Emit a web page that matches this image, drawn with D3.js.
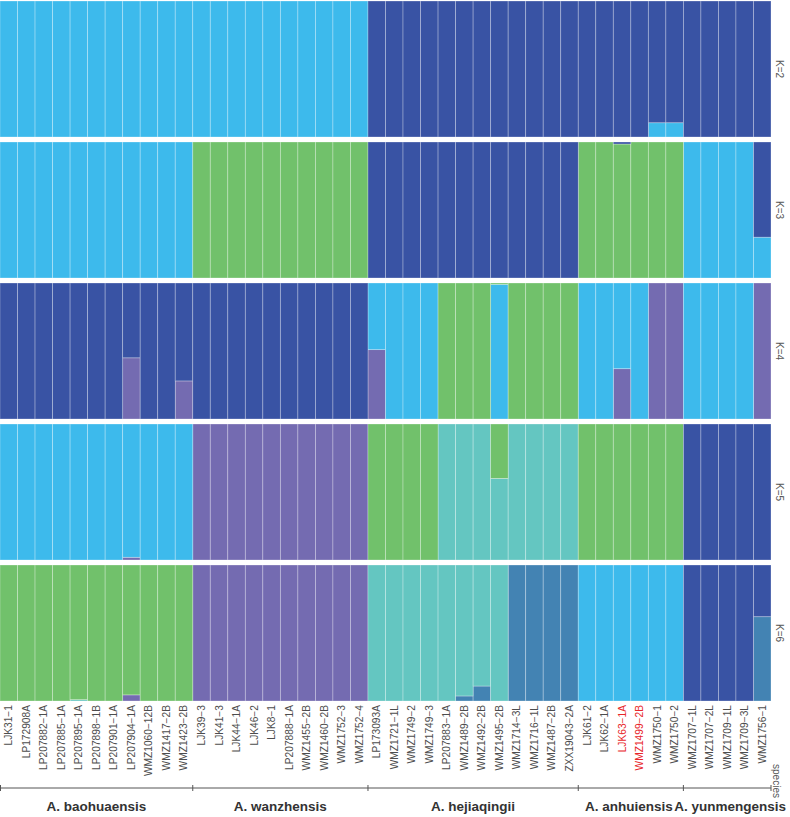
<!DOCTYPE html>
<html>
<head>
<meta charset="utf-8">
<script src="https://cdn.jsdelivr.net/npm/d3@7"></script>
<style>
	html, body { margin: 0; padding: 0; background: #fff; }
	svg { display: block; font-family: 'Liberation Sans', Arial, sans-serif; }
</style>
</head>
<body>
<div id="chart"></div>
<script>
// samples, in plot order
const samples = [
	'LJK31−1', 'LP172908A', 'LP207882−1A', 'LP207885−1A', 'LP207895−1A', 'LP207898−1B', 'LP207901−1A', 'LP207904−1A', 'WMZ1060−12B', 'WMZ1417−2B', 'WMZ1423−2B',
	'LJK39−3', 'LJK41−3', 'LJK44−1A', 'LJK46−2', 'LJK8−1', 'LP207888−1A', 'WMZ1455−2B', 'WMZ1460−2B', 'WMZ1752−3', 'WMZ1752−4',
	'LP173093A', 'WMZ1721−1L', 'WMZ1749−2', 'WMZ1749−3', 'LP207883−1A', 'WMZ1489−2B', 'WMZ1492−2B', 'WMZ1495−2B', 'WMZ1714−3L', 'WMZ1716−1L', 'WMZ1487−2B', 'ZXX19043−2A',
	'LJK61−2', 'LJK62−1A', 'LJK63−1A', 'WMZ1499−2B', 'WMZ1750−1', 'WMZ1750−2',
	'WMZ1707−1L', 'WMZ1707−2L', 'WMZ1709−1L', 'WMZ1709−3L', 'WMZ1756−1'
];
const redSamples = ['LJK63−1A', 'WMZ1499−2B'];

const species = ['A. baohuaensis', 'A. wanzhensis', 'A. hejiaqingii', 'A. anhuiensis', 'A. yunmengensis'];
const speciesCount = [11, 10, 12, 6, 5];

const kLabels = ['K=2', 'K=3', 'K=4', 'K=5', 'K=6'];

// cluster colours, bottom -> top stacking order for each K
const k2Colors = ['#3DBAEC', '#3953A4'];
const k3Colors = ['#3DBAEC', '#71C16B', '#3953A4'];
const k4Colors = ['#746BB1', '#3DBAEC', '#71C16B', '#3953A4'];
const k5Colors = ['#746BB1', '#64C6C1', '#71C16B', '#3DBAEC', '#3953A4'];
const k6Colors = ['#4383B3', '#746BB1', '#64C6C1', '#71C16B', '#3DBAEC', '#3953A4'];

// membership per sample (same order as colours)
const k2 = [
	[1, 0], [1, 0], [1, 0], [1, 0], [1, 0], [1, 0], [1, 0], [1, 0], [1, 0], [1, 0], [1, 0],
	[1, 0], [1, 0], [1, 0], [1, 0], [1, 0], [1, 0], [1, 0], [1, 0], [1, 0], [1, 0],
	[0, 1], [0, 1], [0, 1], [0, 1], [0, 1], [0, 1], [0, 1], [0, 1], [0, 1], [0, 1], [0, 1], [0, 1],
	[0, 1], [0, 1], [0, 1], [0, 1], [0.105, 0.895], [0.105, 0.895],
	[0, 1], [0, 1], [0, 1], [0, 1], [0, 1]
];
const k3 = [
	[1, 0, 0], [1, 0, 0], [1, 0, 0], [1, 0, 0], [1, 0, 0], [1, 0, 0], [1, 0, 0], [1, 0, 0], [1, 0, 0], [1, 0, 0], [1, 0, 0],
	[0, 1, 0], [0, 1, 0], [0, 1, 0], [0, 1, 0], [0, 1, 0], [0, 1, 0], [0, 1, 0], [0, 1, 0], [0, 1, 0], [0, 1, 0],
	[0, 0, 1], [0, 0, 1], [0, 0, 1], [0, 0, 1], [0, 0, 1], [0, 0, 1], [0, 0, 1], [0, 0, 1], [0, 0, 1], [0, 0, 1], [0, 0, 1], [0, 0, 1],
	[0, 1, 0], [0, 1, 0], [0, 0.985, 0.015], [0, 1, 0], [0, 1, 0], [0, 1, 0],
	[1, 0, 0], [1, 0, 0], [1, 0, 0], [1, 0, 0], [0.30, 0, 0.70]
];
const k4 = [
	[0, 0, 0, 1], [0, 0, 0, 1], [0, 0, 0, 1], [0, 0, 0, 1], [0, 0, 0, 1], [0, 0, 0, 1], [0, 0, 0, 1], [0.45, 0, 0, 0.55], [0, 0, 0, 1], [0, 0, 0, 1], [0.28, 0, 0, 0.72],
	[0, 0, 0, 1], [0, 0, 0, 1], [0, 0, 0, 1], [0, 0, 0, 1], [0, 0, 0, 1], [0, 0, 0, 1], [0, 0, 0, 1], [0, 0, 0, 1], [0, 0, 0, 1], [0, 0, 0, 1],
	[0.51, 0.49, 0, 0], [0, 1, 0, 0], [0, 1, 0, 0], [0, 1, 0, 0], [0, 0, 1, 0], [0, 0, 1, 0], [0, 0, 1, 0], [0, 0.99, 0.01, 0], [0, 0, 1, 0], [0, 0, 1, 0], [0, 0, 1, 0], [0, 0, 1, 0],
	[0, 1, 0, 0], [0, 1, 0, 0], [0.37, 0.63, 0, 0], [0, 1, 0, 0], [1, 0, 0, 0], [1, 0, 0, 0],
	[0, 1, 0, 0], [0, 1, 0, 0], [0, 1, 0, 0], [0, 1, 0, 0], [1, 0, 0, 0]
];
const k5 = [
	[0, 0, 0, 1, 0], [0, 0, 0, 1, 0], [0, 0, 0, 1, 0], [0, 0, 0, 1, 0], [0, 0, 0, 1, 0], [0, 0, 0, 1, 0], [0, 0, 0, 1, 0], [0.02, 0, 0, 0.98, 0], [0, 0, 0, 1, 0], [0, 0, 0, 1, 0], [0, 0, 0, 1, 0],
	[1, 0, 0, 0, 0], [1, 0, 0, 0, 0], [1, 0, 0, 0, 0], [1, 0, 0, 0, 0], [1, 0, 0, 0, 0], [1, 0, 0, 0, 0], [1, 0, 0, 0, 0], [1, 0, 0, 0, 0], [1, 0, 0, 0, 0], [1, 0, 0, 0, 0],
	[0, 0, 1, 0, 0], [0, 0, 1, 0, 0], [0, 0, 1, 0, 0], [0, 0, 1, 0, 0], [0, 1, 0, 0, 0], [0, 1, 0, 0, 0], [0, 1, 0, 0, 0], [0, 0.60, 0.40, 0, 0], [0, 1, 0, 0, 0], [0, 1, 0, 0, 0], [0, 1, 0, 0, 0], [0, 1, 0, 0, 0],
	[0, 0, 1, 0, 0], [0, 0, 1, 0, 0], [0, 0, 1, 0, 0], [0, 0, 1, 0, 0], [0, 0, 1, 0, 0], [0, 0, 1, 0, 0],
	[0, 0, 0, 0, 1], [0, 0, 0, 0, 1], [0, 0, 0, 0, 1], [0, 0, 0, 0, 1], [0, 0, 0, 0, 1]
];
const k6 = [
	[0, 0, 0, 1, 0, 0], [0, 0, 0, 1, 0, 0], [0, 0, 0, 1, 0, 0], [0, 0, 0, 1, 0, 0], [0, 0, 0.01, 0.99, 0, 0], [0, 0, 0, 1, 0, 0], [0, 0, 0, 1, 0, 0], [0, 0.045, 0, 0.955, 0, 0], [0, 0, 0, 1, 0, 0], [0, 0, 0, 1, 0, 0], [0, 0, 0, 1, 0, 0],
	[0, 1, 0, 0, 0, 0], [0, 1, 0, 0, 0, 0], [0, 1, 0, 0, 0, 0], [0, 1, 0, 0, 0, 0], [0, 1, 0, 0, 0, 0], [0, 1, 0, 0, 0, 0], [0, 1, 0, 0, 0, 0], [0, 1, 0, 0, 0, 0], [0, 1, 0, 0, 0, 0], [0, 1, 0, 0, 0, 0],
	[0, 0, 1, 0, 0, 0], [0, 0, 1, 0, 0, 0], [0, 0, 1, 0, 0, 0], [0, 0, 1, 0, 0, 0], [0, 0, 1, 0, 0, 0], [0.037, 0, 0.963, 0, 0, 0], [0.11, 0, 0.89, 0, 0, 0], [0, 0, 1, 0, 0, 0], [1, 0, 0, 0, 0, 0], [1, 0, 0, 0, 0, 0], [1, 0, 0, 0, 0, 0], [1, 0, 0, 0, 0, 0],
	[0, 0, 0, 0, 1, 0], [0, 0, 0, 0, 1, 0], [0, 0, 0, 0, 1, 0], [0, 0, 0, 0, 1, 0], [0, 0, 0, 0, 1, 0], [0, 0, 0, 0, 1, 0],
	[0, 0, 0, 0, 0, 1], [0, 0, 0, 0, 0, 1], [0, 0, 0, 0, 0, 1], [0, 0, 0, 0, 0, 1], [0.62, 0, 0, 0, 0, 0.38]
];

const panels = [
	{ label: kLabels[0], colors: k2Colors, rows: k2 },
	{ label: kLabels[1], colors: k3Colors, rows: k3 },
	{ label: kLabels[2], colors: k4Colors, rows: k4 },
	{ label: kLabels[3], colors: k5Colors, rows: k5 },
	{ label: kLabels[4], colors: k6Colors, rows: k6 }
];

const W = 790, H = 817;
const plotW = 771,
	panelTop = 1,
	panelH = 136,
	panelGap = 5;

const svg = d3.select('#chart').append('svg')
	.attr('width', W)
	.attr('height', H)
	.attr('viewBox', `0 0 ${W} ${H}`);

const x = d3.scaleBand().domain(samples).range([0, plotW]).padding(0);

// one panel per K
panels.forEach((p, pi) => {
	const top = panelTop + pi * (panelH + panelGap);
	const y = d3.scaleLinear().domain([0, 1]).range([top + panelH, top]);
	const keys = p.colors.map((c, i) => i);
	const table = p.rows.map((r, i) => {
		const o = { sample: samples[i] };
		r.forEach((v, j) => o[j] = v);
		return o;
	});
	const series = d3.stack().keys(keys)(table);

	const g = svg.append('g').attr('class', 'panel');

	g.selectAll('g.layer')
		.data(series)
		.enter()
		.append('g')
		.attr('class', 'layer')
		.attr('fill', d => p.colors[d.key])
		.selectAll('rect')
		.data(d => d.filter(s => s[1] - s[0] > 0))
		.enter()
		.append('rect')
		.attr('x', d => x(d.data.sample))
		.attr('width', x.bandwidth())
		.attr('y', d => y(d[1]))
		.attr('height', d => y(d[0]) - y(d[1]))
		.attr('stroke', '#fff')
		.attr('stroke-opacity', 0.35)
		.attr('stroke-width', 0.8);

	// K label on the right
	g.append('text')
		.attr('transform', `translate(${plotW + 8},${top + panelH / 2}) rotate(90)`)
		.attr('text-anchor', 'middle')
		.attr('dominant-baseline', 'central')
		.attr('font-size', 10)
		.attr('fill', '#555')
		.text(p.label);
});

// sample labels
const labelTop = panelTop + 5 * panelH + 4 * panelGap + 4;
svg.append('g')
	.selectAll('text')
	.data(samples)
	.enter()
	.append('text')
	.attr('transform', d => `translate(${x(d) + x.bandwidth() / 2},${labelTop}) rotate(-90)`)
	.attr('text-anchor', 'end')
	.attr('dominant-baseline', 'central')
	.attr('font-size', 10.2)
	.attr('fill', d => redSamples.includes(d) ? '#E8262A' : '#4D4D4D')
	.text(d => d);

// species axis
const axisY = 788;
const bounds = [0];
speciesCount.forEach(n => bounds.push(bounds[bounds.length - 1] + n));
const edgeX = i => i === samples.length ? plotW : x(samples[i]);

const axisG = svg.append('g').attr('stroke', '#555').attr('stroke-width', 1);
axisG.append('line')
	.attr('x1', 0).attr('x2', plotW)
	.attr('y1', axisY).attr('y2', axisY);
axisG.selectAll('line.tick')
	.data(bounds)
	.enter()
	.append('line')
	.attr('class', 'tick')
	.attr('x1', d => edgeX(d) + (d === 0 ? 0.5 : 0))
	.attr('x2', d => edgeX(d) + (d === 0 ? 0.5 : 0))
	.attr('y1', axisY - 3)
	.attr('y2', axisY + 3);

// group names; the last two are pushed apart a little so they don't touch
const nudge = [0, 0, 0, -2, 3];
svg.append('g')
	.selectAll('text')
	.data(species)
	.enter()
	.append('text')
	.attr('x', (d, i) => (edgeX(bounds[i]) + edgeX(bounds[i + 1])) / 2 + nudge[i])
	.attr('y', 811)
	.attr('text-anchor', 'middle')
	.attr('font-size', 13.5)
	.attr('font-weight', 'bold')
	.attr('fill', '#333')
	.text(d => d);

svg.append('text')
	.attr('transform', `translate(${plotW + 5},${axisY - 7}) rotate(90)`)
	.attr('text-anchor', 'middle')
	.attr('dominant-baseline', 'central')
	.attr('font-size', 10)
	.attr('fill', '#555')
	.text('species');
</script>
</body>
</html>
